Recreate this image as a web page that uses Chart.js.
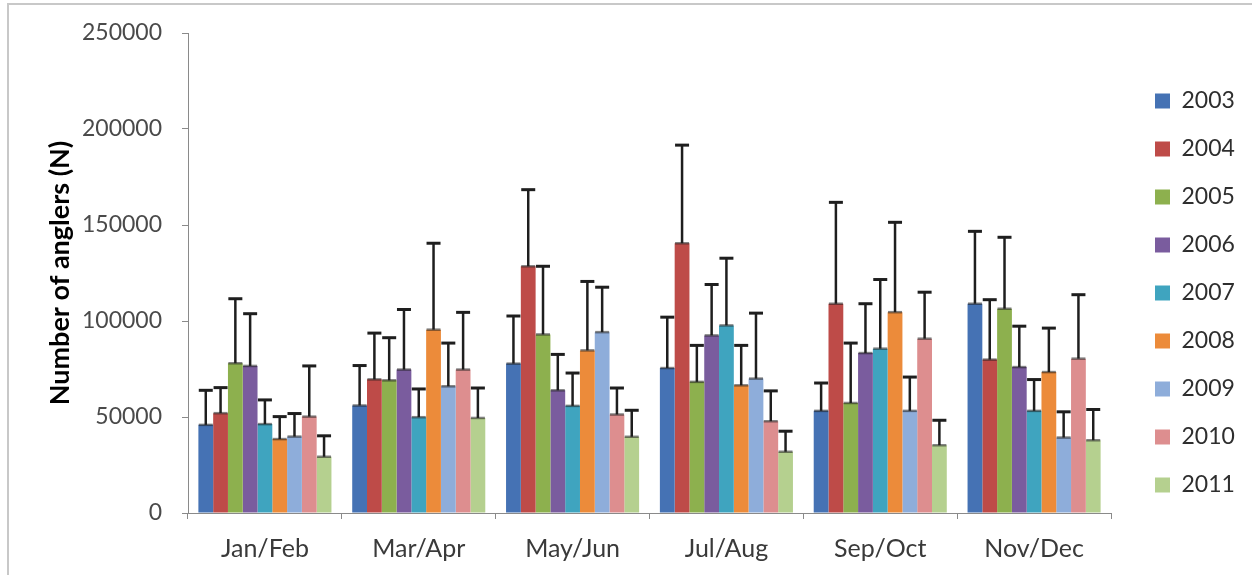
<!DOCTYPE html>
<html>
<head>
<meta charset="utf-8">
<script src="https://cdn.jsdelivr.net/npm/chart.js@4.4.1/dist/chart.umd.min.js"></script>
<style>
  html, body { margin: 0; padding: 0; background: #ffffff; }
  #wrap { width: 1252px; height: 575px; position: relative; }
</style>
</head>
<body>
<div id="wrap"><canvas id="c" width="1252" height="575"></canvas></div>
<script>
// Categories and tick labels
const categories = ['Jan/Feb', 'Mar/Apr', 'May/Jun', 'Jul/Aug', 'Sep/Oct', 'Nov/Dec'];
const years = ['2003', '2004', '2005', '2006', '2007', '2008', '2009', '2010', '2011'];
const yTicks = [0, 50000, 100000, 150000, 200000, 250000];

// Mean number of anglers per year (one value per category)
const n2003 = [45900, 56000, 77800, 75500, 53200, 109000];
const n2004 = [52000, 69600, 128500, 140500, 109000, 79900];
const n2005 = [78000, 69100, 93000, 68300, 57300, 106400];
const n2006 = [76600, 74700, 63900, 92500, 83300, 76000];
const n2007 = [46300, 49900, 55800, 97700, 85600, 53200];
const n2008 = [38500, 95500, 84700, 66500, 104600, 73400];
const n2009 = [39800, 66000, 94200, 70000, 53200, 39300];
const n2010 = [50200, 74700, 51300, 47800, 90800, 80400];
const n2011 = [29300, 49500, 39700, 31900, 35300, 37900];

// Upper end of the error bars
const up2003 = [63900, 76800, 102600, 102000, 67700, 146700];
const up2004 = [65300, 93700, 168400, 191600, 161800, 111100];
const up2005 = [111600, 91300, 128500, 87300, 88500, 143600];
const up2006 = [103800, 106000, 82600, 119000, 109000, 97300];
const up2007 = [58900, 64600, 72900, 132700, 121600, 69500];
const up2008 = [50200, 140500, 120600, 87300, 151400, 96300];
const up2009 = [51800, 88500, 117600, 104100, 70800, 52700];
const up2010 = [76600, 104500, 65100, 63600, 115000, 113700];
const up2011 = [40200, 65100, 53500, 42600, 48300, 53900];

const seriesValues = [n2003, n2004, n2005, n2006, n2007, n2008, n2009, n2010, n2011];
const seriesUpper = [up2003, up2004, up2005, up2006, up2007, up2008, up2009, up2010, up2011];
const colors = ['#4572B4', '#BE4B48', '#8DB04E', '#7A5C9E', '#3FA4BF', '#EC8B3A', '#8EADDA', '#DD8E8F', '#B5D08F'];

const FONT = "Lato, 'Open Sans', 'Liberation Sans', sans-serif";

const datasets = years.map((y, i) => ({
  label: y,
  data: seriesValues[i],
  upper: seriesUpper[i],
  backgroundColor: colors[i],
  borderWidth: 0,
  categoryPercentage: 0.865,
  barPercentage: 1.0
}));

const frame = {
  id: 'frame',
  beforeDraw(chart) {
    const ctx = chart.ctx;
    ctx.save();
    ctx.fillStyle = '#ffffff';
    ctx.fillRect(0, 0, chart.width, chart.height);
    ctx.strokeStyle = '#c8c8c8';
    ctx.lineWidth = 2;
    ctx.beginPath();
    ctx.moveTo(8, 575);
    ctx.lineTo(8, 4);
    ctx.lineTo(1252, 4);
    ctx.stroke();
    ctx.restore();
  }
};

const errorBars = {
  id: 'errorBars',
  afterDatasetsDraw(chart) {
    const ctx = chart.ctx;
    const yScale = chart.scales.y;
    ctx.save();
    chart.data.datasets.forEach((ds, i) => {
      const meta = chart.getDatasetMeta(i);
      if (meta.hidden) return;
      meta.data.forEach((bar, j) => {
        const up = ds.upper[j];
        const x = bar.x;
        const yb = bar.y;
        const yt = yScale.getPixelForValue(up);
        const half = Math.min(bar.width / 2, 7);
        ctx.strokeStyle = '#1e1e1e';
        ctx.lineWidth = 2.5;
        ctx.beginPath();
        ctx.moveTo(x, yb);
        ctx.lineTo(x, yt);
        ctx.stroke();
        ctx.lineWidth = 3;
        ctx.beginPath();
        ctx.moveTo(x - half, yt);
        ctx.lineTo(x + half, yt);
        ctx.stroke();
        ctx.globalAlpha = 0.55;
        ctx.lineWidth = 2.5;
        ctx.beginPath();
        ctx.moveTo(x - half, yb);
        ctx.lineTo(x + half, yb);
        ctx.stroke();
        ctx.globalAlpha = 1;
      });
    });
    ctx.restore();
  }
};

const legendPlace = {
  id: 'legendPlace',
  afterLayout(chart) {
    const lg = chart.legend;
    if (!lg) return;
    lg.left = 1130; lg.right = 1252; lg.width = 122;
    lg.top = 50; lg.bottom = 536; lg.height = 486;
  }
};

new Chart(document.getElementById('c'), {
  type: 'bar',
  data: { labels: categories, datasets },
  options: {
    responsive: false,
    animation: false,
    devicePixelRatio: 1,
    layout: { padding: { left: 0, right: 41, top: 33, bottom: 0 } },
    plugins: {
      tooltip: { enabled: false },
      legend: {
        position: 'right',
        align: 'center',
        maxWidth: 100,
        labels: {
          boxWidth: 15,
          boxHeight: 15,
          padding: 25,
          color: '#2e2e2e',
          font: { family: FONT, size: 23 }
        }
      }
    },
    scales: {
      x: {
        offset: true,
        grid: { display: true, drawOnChartArea: false, drawTicks: true, tickLength: 6, color: '#8a8a8a', offset: true },
        border: { display: true, color: '#8a8a8a', width: 1 },
        ticks: { color: '#3a3a3a', padding: 15, font: { family: FONT, size: 25 }, maxRotation: 0 },
        afterFit(s) { s.height = 62; s.paddingLeft = 0; s.paddingRight = 0; }
      },
      y: {
        min: 0,
        max: 250000,
        afterBuildTicks(s) { s.ticks = yTicks.map(v => ({ value: v })); },
        grid: { display: true, drawOnChartArea: false, drawTicks: true, tickLength: 6, color: '#8a8a8a' },
        border: { display: true, color: '#8a8a8a', width: 1 },
        ticks: { color: '#4a4a4a', padding: 20, font: { family: FONT, size: 23 }, callback: v => String(v) },
        title: {
          display: true,
          text: 'Number of anglers (N)',
          color: '#000000',
          font: { family: FONT, size: 27, weight: 'bold' },
          padding: { top: 44, bottom: 0 }
        },
        afterFit(s) { s.width = 188; s.paddingTop = 0; s.paddingBottom = 0; }
      }
    }
  },
  plugins: [frame, errorBars, legendPlace]
});
</script>
</body>
</html>
